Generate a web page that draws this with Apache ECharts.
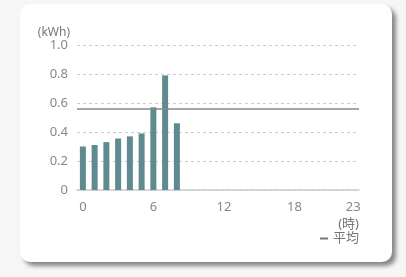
<!DOCTYPE html>
<html>
<head>
<meta charset="utf-8">
<script src="https://cdn.jsdelivr.net/npm/echarts@6/dist/echarts.min.js"></script>
<style>
  html, body { margin: 0; padding: 0; width: 406px; height: 277px; background: #f6f6f6; overflow: hidden; }
  #card { position: absolute; left: 20px; top: 4px; width: 372px; height: 258px; background: #fff;
          border-radius: 10px; box-shadow: 4px 4px 4px rgba(0,0,0,0.45); }
  #main { position: absolute; left: 0; top: 0; width: 406px; height: 277px; }
</style>
</head>
<body>
<div id="card"></div>
<div id="main"></div>
<script>
// 時間帯ごとの使用量
var hours = [];
for (var h = 0; h < 24; h++) hours.push(String(h));
var usage = [0.30, 0.31, 0.33, 0.355, 0.37, 0.39, 0.57, 0.79, 0.46];
var average = 0.56;
var xTickLabels = ['0', '6', '12', '18', '23'];

var myChart = echarts.init(document.getElementById('main')),
    option = {
        animation: false,
        textStyle: { fontFamily: 'Noto Sans, Noto Sans CJK JP, sans-serif' },
        legend: {
            data: [{ name: '平均', icon: 'rect' }],
            right: 47,
            top: 232,
            padding: 0,
            itemWidth: 8,
            itemHeight: 2,
            itemGap: 4,
            textStyle: { color: '#777', fontSize: 13, padding: [0, 0, 0, 0] }
        },
        grid: {
            left: 77,
            right: 47,
            top: 45,
            bottom: 87
        },
        xAxis: {
            type: 'category',
            data: hours,
            name: '(時)',
            nameLocation: 'end',
            nameGap: 0,
            nameTextStyle: {
                color: '#777', fontSize: 13,
                align: 'right', verticalAlign: 'top',
                padding: [28, 0, 0, 0]
            },
            axisLine: { lineStyle: { color: '#ccc', width: 1.5 } },
            axisTick: { show: false },
            axisLabel: {
                color: '#888', fontSize: 13, margin: 11,
                interval: 0,
                formatter: function (v) { return xTickLabels.indexOf(v) >= 0 ? v : ''; }
            }
        },
        yAxis: {
            type: 'value',
            min: 0,
            max: 1.0,
            interval: 0.2,
            name: '(kWh)',
            nameGap: 6,
            nameTextStyle: { color: '#777', fontSize: 12, align: 'right', padding: [0, 7, 0, 0] },
            axisLine: { show: false },
            axisTick: { show: false },
            splitLine: { lineStyle: { color: '#ccc', type: [3, 3] } },
            axisLabel: {
                color: '#888', fontSize: 13, margin: 9,
                formatter: function (v) { return v === 0 ? '0' : v.toFixed(1); }
            }
        },
        series: [{
            name: '使用量',
            type: 'bar',
            barWidth: 6,
            itemStyle: { color: '#5e8a90' },
            data: usage
        }, {
            name: '平均',
            type: 'line',
            data: [],
            itemStyle: { color: '#777' },
            lineStyle: { color: '#777' },
            markLine: {
                silent: true,
                symbol: 'none',
                label: { show: false },
                lineStyle: { color: '#888', width: 1.5, type: 'solid' },
                data: [{ yAxis: average }]
            }
        }]
    };

myChart.setOption(option);
</script>
</body>
</html>
